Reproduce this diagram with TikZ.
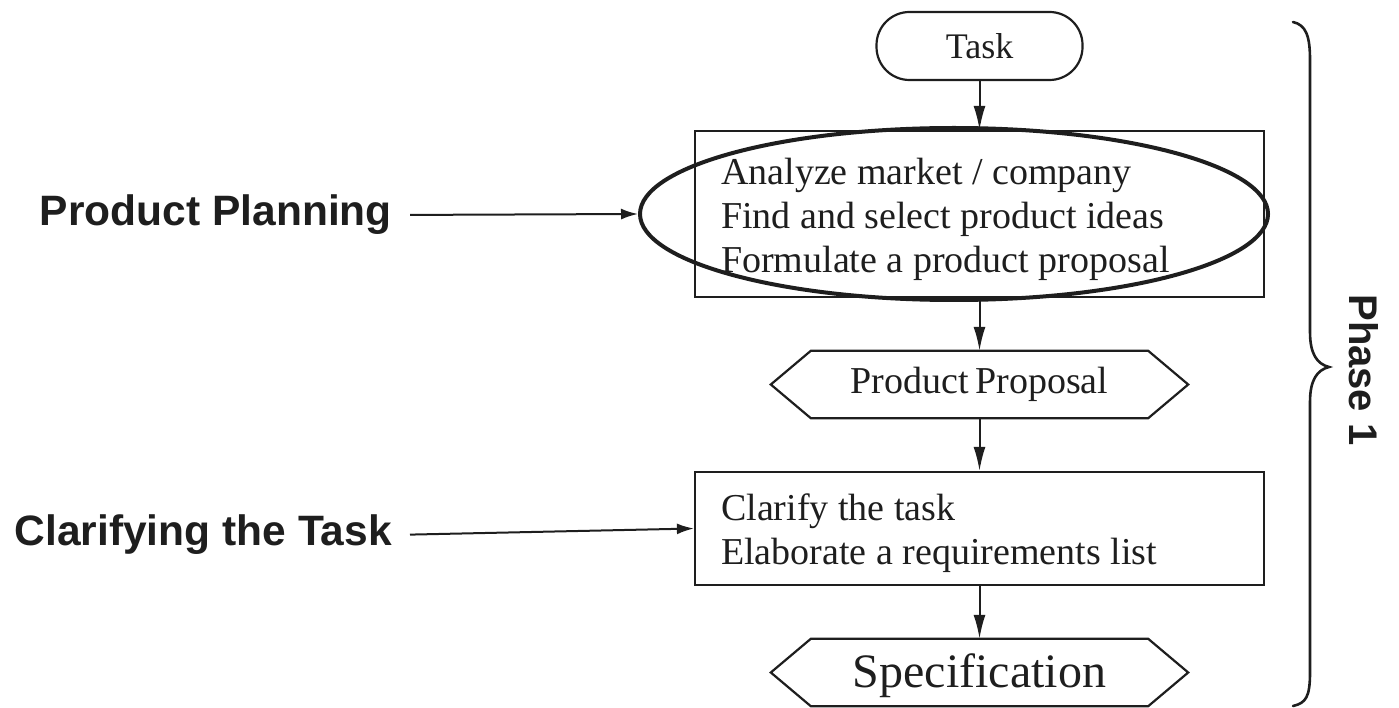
\documentclass[tikz,border=0pt]{standalone}
\usepackage{fontspec}
\setmainfont{Liberation Serif}
\newfontfamily\labelsans{Liberation Sans}
\usetikzlibrary{arrows.meta,shapes.geometric}
\definecolor{inkc}{HTML}{1E1E1E}
\begin{document}
\begin{tikzpicture}[x=1pt,y=-1pt,
  every node/.style={text=inkc},
  bodytext/.style={font=\fontsize{38}{44}\selectfont},
  stepbox/.style={draw=inkc, line width=2.2pt, rectangle, inner sep=0pt, minimum width=569pt},
  steptext/.style={bodytext, inner sep=0pt, align=left, anchor=west},
  terminal/.style={draw=inkc, line width=2.2pt, rounded corners=33pt, inner sep=0pt,
    minimum width=206pt, minimum height=68pt, font=\fontsize{36}{40}\selectfont},
  docbox/.style={inner sep=0pt, minimum width=417pt, minimum height=67pt},
  hexline/.style={draw=inkc, line width=2.2pt, line join=miter},
  focusring/.style={draw=inkc, line width=4pt, ellipse, inner sep=0pt,
    minimum width=628pt, minimum height=172pt},
  sidelabel/.style={font=\labelsans\bfseries\fontsize{42.5}{46}\selectfont, inner sep=0pt, anchor=east},
  flowarrow/.style={draw=inkc, line width=2pt, -{Latex[length=24pt,width=12pt]}},
  sidearrow/.style={draw=inkc, line width=2pt, -{Latex[length=17pt,width=11pt]}, shorten <=18pt}
]
\useasboundingbox (0,0) rectangle (1399,708);

% flow of phase 1
\node[terminal] (task) at (979.5,46) {Task};
\node[stepbox, minimum height=166pt] (plan) at (979.5,214) {};
\node[steptext] (plantext) at (721,219)
  {Analyze market / company\\Find and select product ideas\\Formulate a product proposal};
\node[focusring] (focus) at (954,214) {};
\node[docbox, bodytext] (proposal) at (979.5,384.5) {Product\,Proposal};
\node[stepbox, minimum height=113pt] (clarify) at (979.5,528.5) {};
\node[steptext] (clarifytext) at (721,533)
  {Clarify the task\\Elaborate a requirements list};
\node[docbox] (spec) at (979.5,672.5) {};
\node[font=\fontsize{48}{52}\selectfont, inner sep=0pt] (spectext) at (979.5,676) {Specification};

% document hexagons
\foreach \d in {proposal,spec}{
  \draw[hexline] (\d.west) -- ([xshift=40pt]\d.north west) -- ([xshift=-40pt]\d.north east)
    -- (\d.east) -- ([xshift=-40pt]\d.south east) -- ([xshift=40pt]\d.south west) -- cycle;
}

\draw[flowarrow] (task) -- (plan);
\draw[flowarrow] (plan) -- (proposal);
\draw[flowarrow] (proposal) -- (clarify);
\draw[flowarrow] (clarify) -- (spec);

% labels on the left
\node[sidelabel] (planlabel) at (392,215) {Product Planning};
\node[sidelabel] (clarlabel) at (392,535) {Clarifying the Task};
\draw[sidearrow] (planlabel.east) -- (focus.west);
\draw[sidearrow] (clarlabel.east) -- (clarify.west);

% brace grouping the phase
\draw[draw=inkc, line width=2.6pt, line cap=round]
  (1293,22) .. controls (1306,25) and (1310,36) .. (1310,60)
  -- (1310,332) .. controls (1310,354) and (1317,364) .. (1329,367)
  .. controls (1317,370) and (1310,380) .. (1310,402)
  -- (1310,672) .. controls (1310,697) and (1306,703) .. (1293,706);
\node[font=\labelsans\bfseries\fontsize{40}{44}\selectfont, rotate=-90, inner sep=0pt] (phase) at (1364,370) {Phase 1};
\end{tikzpicture}
\end{document}
